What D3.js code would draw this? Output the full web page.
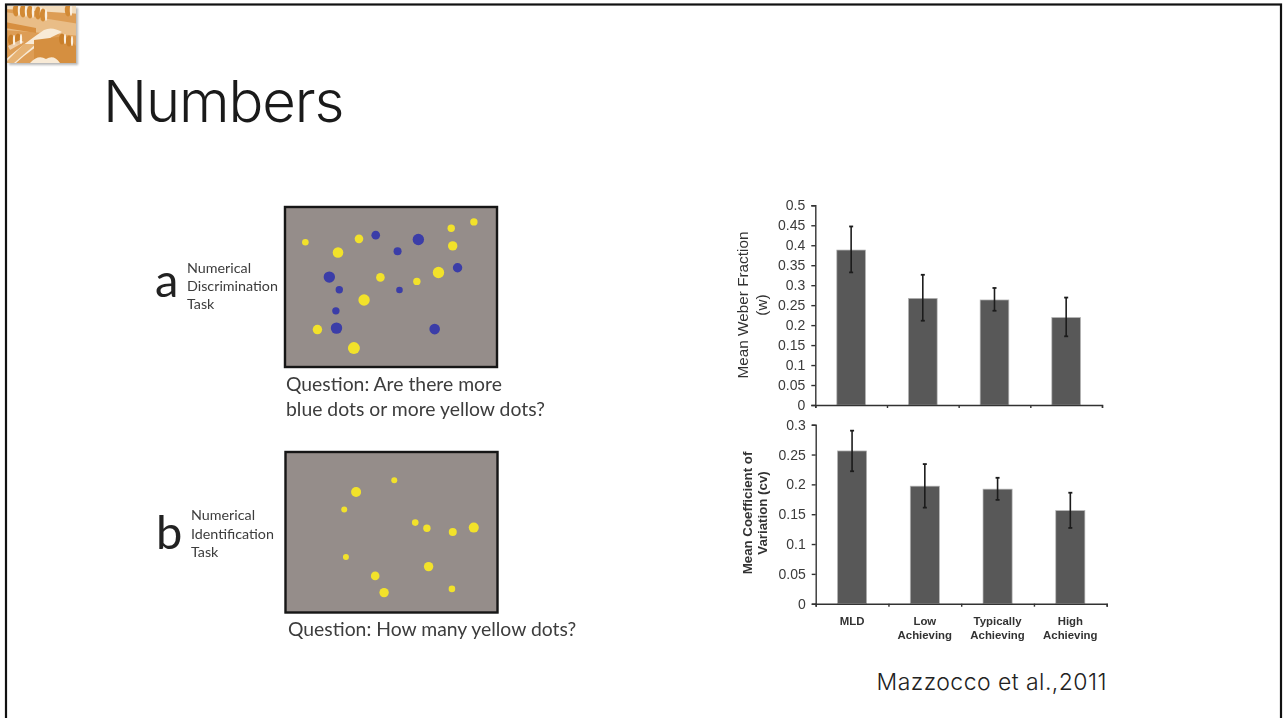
<!DOCTYPE html>
<html><head><meta charset="utf-8">
<script src="https://cdn.jsdelivr.net/npm/d3@7"></script>
<style>html,body{margin:0;padding:0;background:#fff;overflow:hidden}svg{display:block}</style>
</head><body><svg id="c" width="1283" height="718"></svg>
<script>
// ---- Data ----
const categories = ["MLD", "Low Achieving", "Typically Achieving", "High Achieving"];
const weberValues = [0.388, 0.267, 0.263, 0.219];
const weberHigh   = [0.447, 0.326, 0.293, 0.269];
const weberLow    = [0.332, 0.211, 0.236, 0.172];
const weberTicks  = [0, 0.05, 0.1, 0.15, 0.2, 0.25, 0.3, 0.35, 0.4, 0.45, 0.5];
const cvValues = [0.256, 0.197, 0.192, 0.156];
const cvHigh   = [0.290, 0.234, 0.211, 0.186];
const cvLow    = [0.222, 0.161, 0.174, 0.127];
const cvTicks  = [0, 0.05, 0.1, 0.15, 0.2, 0.25, 0.3];
// stimulus dots: [x %, y %, size]
const taskAYellow = [[9.6,22,3.3],[25,28.4,5.3],[34.9,19.9,4.3],[78.4,13.3,3.7],[89.1,9.3,3.7],[79.1,24.3,4.7],[45,44,4.3],[62.2,46.5,3.7],[72.4,40.9,5.7],[37.3,58.1,5.7],[15.3,76.6,4.7],[32.5,88.2,6]];
const taskABlue = [[42.8,17.6,4.3],[62.9,20.3,5.7],[53.1,27.6,4],[81.4,38,4.7],[20.9,43.8,5.7],[25.6,51.7,3.7],[54,51.9,3.3],[24,64.9,3.7],[24.3,75.7,5.7],[70.6,76.3,5.3]];
const taskBYellow = [[51.3,17.6,3],[33.3,24.9,5],[27.7,35.9,3],[61.2,44,3.3],[66.7,47.5,3.7],[78.9,49.8,4],[88.8,47.1,5],[28.5,65.4,3],[67.5,71.4,4.7],[42.3,77.2,4.3],[46.5,87.6,4.7],[78.5,85.3,3.3]];

const svg = d3.select("#c");
const defs = svg.append("defs");
defs.append("filter").attr("id","soft").attr("x","-5%").attr("y","-5%").attr("width","110%").attr("height","110%")
  .append("feGaussianBlur").attr("stdDeviation",0.65);
defs.append("filter").attr("id","softer").append("feGaussianBlur").attr("stdDeviation",1.2);
defs.append("clipPath").attr("id","logoClip").append("rect").attr("x",7).attr("y",6).attr("width",69).attr("height",57);

// ---- Logo ----
const shadow = svg.append("rect").attr("x",9).attr("y",8).attr("width",69).attr("height",57).attr("fill","#888").attr("opacity",.6).attr("filter","url(#softer)");
const logo = svg.append("g").attr("clip-path","url(#logoClip)").append("g").attr("filter","url(#soft)");
logo.append("rect").attr("x",5).attr("y",4).attr("width",74).attr("height",62).attr("fill","#dd9d55");
logo.append("path").attr("d","M5 12 L80 24 L80 36 L5 30Z").attr("fill","#e9bd87");
logo.append("path").attr("d","M5 5 L80 5 L80 14 L5 9Z").attr("fill","#f3dcbc");
logo.append("path").attr("d","M5 22 L36 28 L36 33 L5 28Z").attr("fill","#d78f3f");
logo.append("path").attr("d","M5 60 Q26 42 44 30 Q52 26 62 32 Q44 40 24 56 L16 63 L5 63Z").attr("fill","#f8ead6");
logo.append("path").attr("d","M5 63 L14 63 L36 44 L24 44Z").attr("fill","#e6b273");
logo.append("path").attr("d","M34 40 L66 36 L80 50 L80 66 L34 66Z").attr("fill","#d58f40");
[[16,10],[23,11],[30,12],[38,13],[43,15],[68,10]].forEach(([x,y])=>{
  logo.append("ellipse").attr("cx",x).attr("cy",y).attr("rx",3.2).attr("ry",6.5).attr("fill","#d28a36");
  logo.append("ellipse").attr("cx",x+3).attr("cy",y).attr("rx",1.2).attr("ry",6).attr("fill","#fbf0e0");
});
[[11,40],[18,39],[62,39],[69,41]].forEach(([x,y])=>{
  logo.append("ellipse").attr("cx",x).attr("cy",y).attr("rx",3).attr("ry",5.5).attr("fill","#c97f2a");
  logo.append("ellipse").attr("cx",x+3).attr("cy",y).attr("rx",1.1).attr("ry",5).attr("fill","#fbf0e0");
});
logo.append("path").attr("d","M30 63 Q38 54 46 59 Q54 54 60 63Z").attr("fill","#f8ead6");
logo.append("path").attr("d","M10 50 L24 42 L20 40 L8 46Z").attr("fill","#fff").attr("opacity",.5);

// ---- Slide frame ----
svg.append("rect").attr("x",6).attr("y",4.5).attr("width",1275).attr("height",720)
  .attr("fill","none").attr("stroke","#111").attr("stroke-width",2.2);

// ---- Title ----
svg.append("text").attr("x",103).attr("y",122).text("Numbers")
  .attr("font-family","Inter").attr("font-weight",300).attr("font-size",58).attr("letter-spacing",-1.1).attr("fill","#1a1a1a");
svg.append("text").attr("x",1107).attr("y",690).attr("text-anchor","end").text("Mazzocco et al.,2011")
  .attr("font-family","Inter").attr("font-weight",300).attr("font-size",23).attr("letter-spacing",0.45).attr("fill","#222");

// ---- Stimulus panels ----
const leftFig = svg.append("g").attr("filter","url(#soft)");
function panel(x0,x1,y0,y1,groups){
  const g = leftFig.append("g");
  const sx = d3.scaleLinear().domain([0,100]).range([x0,x1]);
  const sy = d3.scaleLinear().domain([0,100]).range([y0,y1]);
  const sr = d3.scaleLinear().domain([0,10]).range([0,10]);
  g.append("rect").attr("x",sx(0)).attr("y",sy(0)).attr("width",sx(100)-sx(0)).attr("height",sy(100)-sy(0))
    .attr("fill","#958d8a").attr("stroke","#151515").attr("stroke-width",2.4);
  groups.forEach(([data,color])=>{
    g.selectAll(null).data(data).join("circle")
      .attr("cx",d=>sx(d[0])).attr("cy",d=>sy(d[1])).attr("r",d=>sr(d[2])).attr("fill",color);
  });
}
panel(285,497,207,367,[[taskAYellow,"#f2e22c"],[taskABlue,"#3b3ca8"]]);
panel(285.5,497.5,452,612.5,[[taskBYellow,"#f2e22c"]]);

const lab = (x,y,t,size,col)=>leftFig.append("text").attr("x",x).attr("y",y).text(t)
  .attr("font-family","Lato").attr("font-size",size).attr("fill",col||"#3c3c3c");
lab(155,297,"a",47,"#222");
lab(187,273,"Numerical",14.3); lab(187,291,"Discrimination",14.3); lab(187,309,"Task",14.3);
lab(156,549,"b",47,"#222");
lab(191,520,"Numerical",14.3); lab(191,539,"Identification",14.3); lab(191,557,"Task",14.3);
lab(286,391,"Question: Are there more",19.35); lab(286,416,"blue dots or more yellow dots?",19.35);
lab(288,636,"Question: How many yellow dots?",19.35);

// ---- Bar charts ----
const fig = svg.append("g").attr("filter","url(#soft)");
function barChart(o){
  const g = fig.append("g");
  const x = d3.scaleBand().domain(categories).range([o.x0,o.x1]).paddingInner(0.6).paddingOuter(0.3);
  const edge = d3.scaleLinear().domain([0,categories.length]).range([o.x0,o.x1]);
  const y = d3.scaleLinear().domain([0,o.max]).range([o.y0,o.y1]);
  const ink="#333";
  g.selectAll(null).data(categories).join("rect")
    .attr("x",d=>x(d)).attr("width",x.bandwidth())
    .attr("y",(d,i)=>y(o.values[i])).attr("height",(d,i)=>o.y0-y(o.values[i]))
    .attr("fill","#595959").attr("stroke","#b5b5b5").attr("stroke-width",.7);
  const cx=d=>x(d)+x.bandwidth()/2;
  g.selectAll(null).data(categories).join("line")
    .attr("x1",cx).attr("x2",cx).attr("y1",(d,i)=>y(o.high[i])).attr("y2",(d,i)=>y(o.low[i]))
    .attr("stroke","#1c1c1c").attr("stroke-width",1.6);
  [o.high,o.low].forEach(arr=>{
    g.selectAll(null).data(categories).join("line")
      .attr("x1",d=>cx(d)-2).attr("x2",d=>cx(d)+2).attr("y1",(d,i)=>y(arr[i])).attr("y2",(d,i)=>y(arr[i]))
      .attr("stroke","#1c1c1c").attr("stroke-width",1.8);
  });
  const ya = g.append("g").attr("transform",`translate(${o.x0},0)`)
    .call(d3.axisLeft(y).tickValues(o.ticks).tickFormat(d=>String(d)).tickSize(4).tickPadding(6));
  const xa = g.append("g").attr("transform",`translate(0,${o.y0})`)
    .call(d3.axisBottom(edge).tickValues(d3.range(categories.length+1)).tickFormat("").tickSize(3).tickSizeOuter(3));
  [ya,xa].forEach(a=>{a.selectAll("path,line").attr("stroke",ink).attr("stroke-width",1.4);
    a.selectAll("text").attr("font-family","Liberation Sans").attr("font-size",14).attr("fill","#3a3a3a");});
  o.title.forEach((t,i)=>g.append("text").attr("transform",`translate(${o.titleX[i]},${o.titleY}) rotate(-90)`)
    .attr("text-anchor","middle").attr("dominant-baseline","middle").text(t)
    .attr("font-family","Liberation Sans").attr("font-size",o.titleSize).attr("font-weight",o.titleWeight).attr("fill","#333"));
  if(o.labels){
    categories.forEach(c=>{
      c.split(" ").forEach((w,i)=>g.append("text").attr("x",cx(c)).attr("y",o.y0+21.5+i*14).attr("text-anchor","middle").text(w)
        .attr("font-family","Liberation Sans").attr("font-weight","bold").attr("font-size",11.4).attr("fill","#333"));
    });
  }
}
barChart({x0:815.3,x1:1102,y0:405,y1:205.3,max:0.5,values:weberValues,high:weberHigh,low:weberLow,ticks:weberTicks,
  title:["Mean Weber Fraction","(w)"],titleX:[744,763],titleY:305,titleSize:15.3,titleWeight:"normal"});
barChart({x0:815.7,x1:1106.7,y0:603.7,y1:424.7,max:0.3,values:cvValues,high:cvHigh,low:cvLow,ticks:cvTicks,labels:true,
  title:["Mean Coefficient of","Variation (cv)"],titleX:[748,763],titleY:513,titleSize:13.3,titleWeight:"bold"});
</script></body></html>
